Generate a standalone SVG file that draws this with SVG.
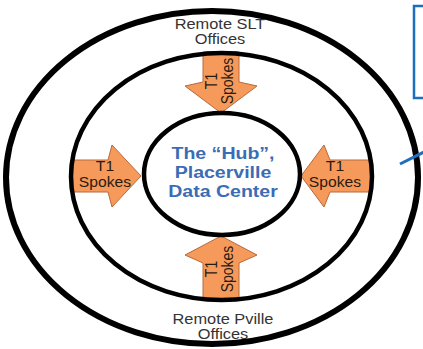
<svg xmlns="http://www.w3.org/2000/svg" width="423" height="349" viewBox="0 0 423 349">
<style>
.ring{fill:none;stroke:#000}
.arrow{fill:#F69A5C;stroke:#B8693A;stroke-width:1}
.lbl{font-family:"Liberation Sans",Arial,sans-serif;font-size:14px;fill:#333;text-anchor:middle}
.spk{font-family:"Liberation Sans",Arial,sans-serif;font-size:14px;fill:#2a1a10;text-anchor:middle}
.hub{font-family:"Liberation Sans",Arial,sans-serif;font-size:17px;font-weight:bold;fill:#3A6DB5;text-anchor:middle}
</style>
<rect width="423" height="349" fill="#fff"/>
<g id="spokes">
<g id="spoke-top">
<polygon class="arrow" points="203,52 239,52 239,82 257,86 221,113 185,86 203,82"/>
<text class="spk" transform="translate(217,81) rotate(-90) scale(1,1.15)"><tspan x="0" y="0">T1</tspan><tspan x="0" y="14">Spokes</tspan></text>
</g>
<g id="spoke-bottom">
<polygon class="arrow" points="203,300 239,300 239,263 257,255 221,236 185,255 203,263"/>
<text class="spk" transform="translate(217,269) rotate(-90) scale(1,1.15)"><tspan x="0" y="0">T1</tspan><tspan x="0" y="14">Spokes</tspan></text>
</g>
<g id="spoke-left">
<polygon class="arrow" points="71,160 108,160 112,145 141,176 112,207 108,192 71,192"/>
<text class="spk" transform="translate(105,171) scale(1.12,1)"><tspan x="0" y="0">T1</tspan><tspan x="0" y="16">Spokes</tspan></text>
</g>
<g id="spoke-right">
<polygon class="arrow" points="372,160 330,160 324,145 301,176 324,207 330,192 372,192"/>
<text class="spk" transform="translate(335,171) scale(1.12,1)"><tspan x="0" y="0">T1</tspan><tspan x="0" y="16">Spokes</tspan></text>
</g>
</g>
<g id="outer-ring">
<ellipse class="ring" cx="212" cy="177.5" rx="206" ry="166.5" stroke-width="6"/>
<text class="lbl" transform="translate(220,29) scale(1.17,1)">Remote SLT</text>
<text class="lbl" transform="translate(220,44) scale(1.17,1)">Offices</text>
<text class="lbl" transform="translate(223,324) scale(1.17,1)">Remote Pville</text>
<text class="lbl" transform="translate(223,339) scale(1.17,1)">Offices</text>
</g>
<g id="middle-ring">
<ellipse class="ring" cx="221.5" cy="176.5" rx="150.5" ry="123.5" stroke-width="4.5"/>
</g>
<g id="hub">
<ellipse class="ring" cx="222" cy="174" rx="78" ry="61" stroke-width="4.5"/>
<text class="hub" transform="translate(223,0) scale(1.15,1)"><tspan x="0" y="159">The “Hub”,</tspan><tspan x="0" y="178">Placerville</tspan><tspan x="0" y="197">Data Center</tspan></text>
</g>
<g id="callout">
<rect x="414" y="6" width="20" height="92" fill="#fff" stroke="#1E6EC0" stroke-width="2.5"/>
</g>
<g id="connectors">
<line x1="400" y1="164" x2="425" y2="151.5" stroke="#1E6EC0" stroke-width="3"/>
</g>
</svg>
